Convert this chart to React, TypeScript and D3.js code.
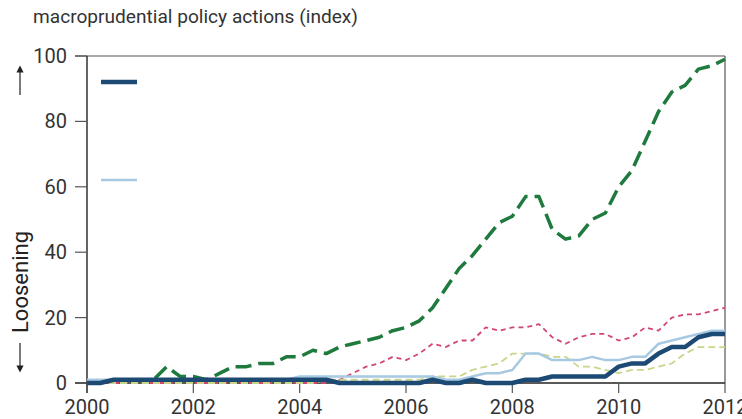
import React from 'react';
import * as d3 from 'd3';

// quarterly observations, 2000Q1 .. 2012Q1
const quarters = d3.range(49).map(i => 2000 + i * 0.25);

const greenSeries = [
  0, 0, 1, 1, 1, 1, 5, 2, 2, 1, 3, 5, 5, 6, 6, 8,
  8, 10, 9, 11, 12, 13, 14, 16, 17, 19, 23, 29, 35, 39, 44, 49,
  51, 57, 57, 47, 44, 45, 50, 52, 60, 65, 74, 83, 89, 91, 96, 97, 99,
];
const redSeries = [
  0, 0, 0, 0, 0, 0, 0, 0, 0, 0, 0, 0, 0, 0, 0, 0, 0, 0, 0,
  1, 3, 5, 6, 8, 7, 9, 12, 11, 13, 13, 17, 16,
  17, 17, 18, 14, 12, 14, 15, 15, 13, 14, 17, 16, 20, 21, 21, 22, 23,
];
const yellowSeries = [
  0, 0, 0, 0, 0, 0, 0, 0, 0, 0, 0, 0, 0, 0, 0, 0, 0, 0,
  1, 1, 1, 1, 1, 1, 1, 1, 2, 2, 2, 4, 5, 6,
  9, 9, 9, 8, 8, 5, 5, 4, 3, 4, 4, 5, 6, 9, 11, 11, 11,
];
const darkBlueSeries = [
  0, 0, 1, 1, 1, 1, 1, 1, 1, 1, 1, 1, 1, 1, 1, 1, 1, 1, 1,
  0, 0, 0, 0, 0, 0, 0, 1, 0, 0, 1, 0, 0,
  0, 1, 1, 2, 2, 2, 2, 2, 5, 6, 6, 9, 11, 11, 14, 15, 15,
];
const lightBlueSeries = [
  1, 1, 1, 1, 1, 1, 1, 1, 1, 1, 1, 1, 1, 1, 1, 1,
  2, 2, 2, 2, 2, 2, 2, 2, 2, 2, 2, 1, 1, 2, 3, 3,
  4, 9, 9, 7, 7, 7, 8, 7, 7, 8, 8, 12, 13, 14, 15, 16, 16,
];

const yTicks = [0, 20, 40, 60, 80, 100];
const xTicks = [2000, 2002, 2004, 2006, 2008, 2010, 2012];

const W = 742;
const H = 419;
const left = 87, right = 725, top = 56, bottom = 383;
const FONT = 'Roboto, "Open Sans", sans-serif';

const App: React.FC = () => {
  const x = d3.scaleLinear().domain([2000, 2012]).range([left, right]);
  const y = d3.scaleLinear().domain([0, 100]).range([bottom, top]);

  const line = d3.line<number>()
    .x((_, i) => x(quarters[i]))
    .y(d => y(d));

  const series = [
    { data: greenSeries, color: '#1f7a3d', width: 3.5, dash: '16,7' },
    { data: redSeries, color: '#d2466f', width: 1.8, dash: '5,4' },
    { data: yellowSeries, color: '#c8d68a', width: 1.8, dash: '7,4' },
    { data: lightBlueSeries, color: '#a7c9e2', width: 2.5, dash: undefined },
    { data: darkBlueSeries, color: '#1d4a74', width: 4.5, dash: undefined },
  ];

  return (
    <svg width={W} height={H} style={{ position: 'absolute', left: 0, top: 0, background: '#fff' }}>
      <text x={33} y={23} fontFamily={FONT} fontSize={18} fill="#333" textLength={325} lengthAdjust="spacingAndGlyphs">
        macroprudential policy actions (index)
      </text>

      {/* frame */}
      <line x1={left - 12} x2={right} y1={top} y2={top} stroke="#555" strokeWidth={1.2} />
      <line x1={right} x2={right} y1={top} y2={bottom} stroke="#555" strokeWidth={1.2} />
      <line x1={left} x2={left} y1={top} y2={bottom + 10} stroke="#222" strokeWidth={1.4} />
      <line x1={left - 12} x2={right} y1={bottom} y2={bottom} stroke="#222" strokeWidth={1.4} />

      {yTicks.map(t => (
        <g key={'y' + t}>
          <line x1={left - 12} x2={left} y1={y(t)} y2={y(t)} stroke="#555" strokeWidth={1.2} />
          <text x={67} y={y(t) + 7} textAnchor="end" fontFamily={FONT} fontSize={20} fill="#333">{t}</text>
        </g>
      ))}
      {xTicks.map(t => (
        <g key={'x' + t}>
          <line x1={x(t)} x2={x(t)} y1={bottom} y2={bottom + 10} stroke="#555" strokeWidth={1.2} />
          <text x={x(t)} y={414} textAnchor="middle" fontFamily={FONT} fontSize={20} fill="#333">{t}</text>
        </g>
      ))}

      {series.map((s, i) => (
        <path key={i} d={line(s.data) || ''} fill="none" stroke={s.color}
          strokeWidth={s.width} strokeDasharray={s.dash} strokeLinejoin="round" />
      ))}

      {/* legend swatches */}
      <line x1={101} x2={137} y1={82} y2={82} stroke="#1d4a74" strokeWidth={4.5} />
      <line x1={101} x2={137} y1={180} y2={180} stroke="#a7c9e2" strokeWidth={2.5} />

      {/* side labels and arrows */}
      <text transform="translate(28,282) rotate(-90)" textAnchor="middle" fontFamily={FONT} fontSize={22} fill="#222">
        Loosening
      </text>
      <defs>
        <marker id="arr" viewBox="0 0 10 10" refX="5" refY="5" markerWidth="6" markerHeight="6" orient="auto">
          <path d="M0,0 L10,5 L0,10 z" fill="#222" />
        </marker>
      </defs>
      <line x1={20} x2={20} y1={95} y2={69} stroke="#222" strokeWidth={1.2} markerEnd="url(#arr)" />
      <line x1={20} x2={20} y1={343} y2={369} stroke="#222" strokeWidth={1.2} markerEnd="url(#arr)" />
    </svg>
  );
};

export default App;
